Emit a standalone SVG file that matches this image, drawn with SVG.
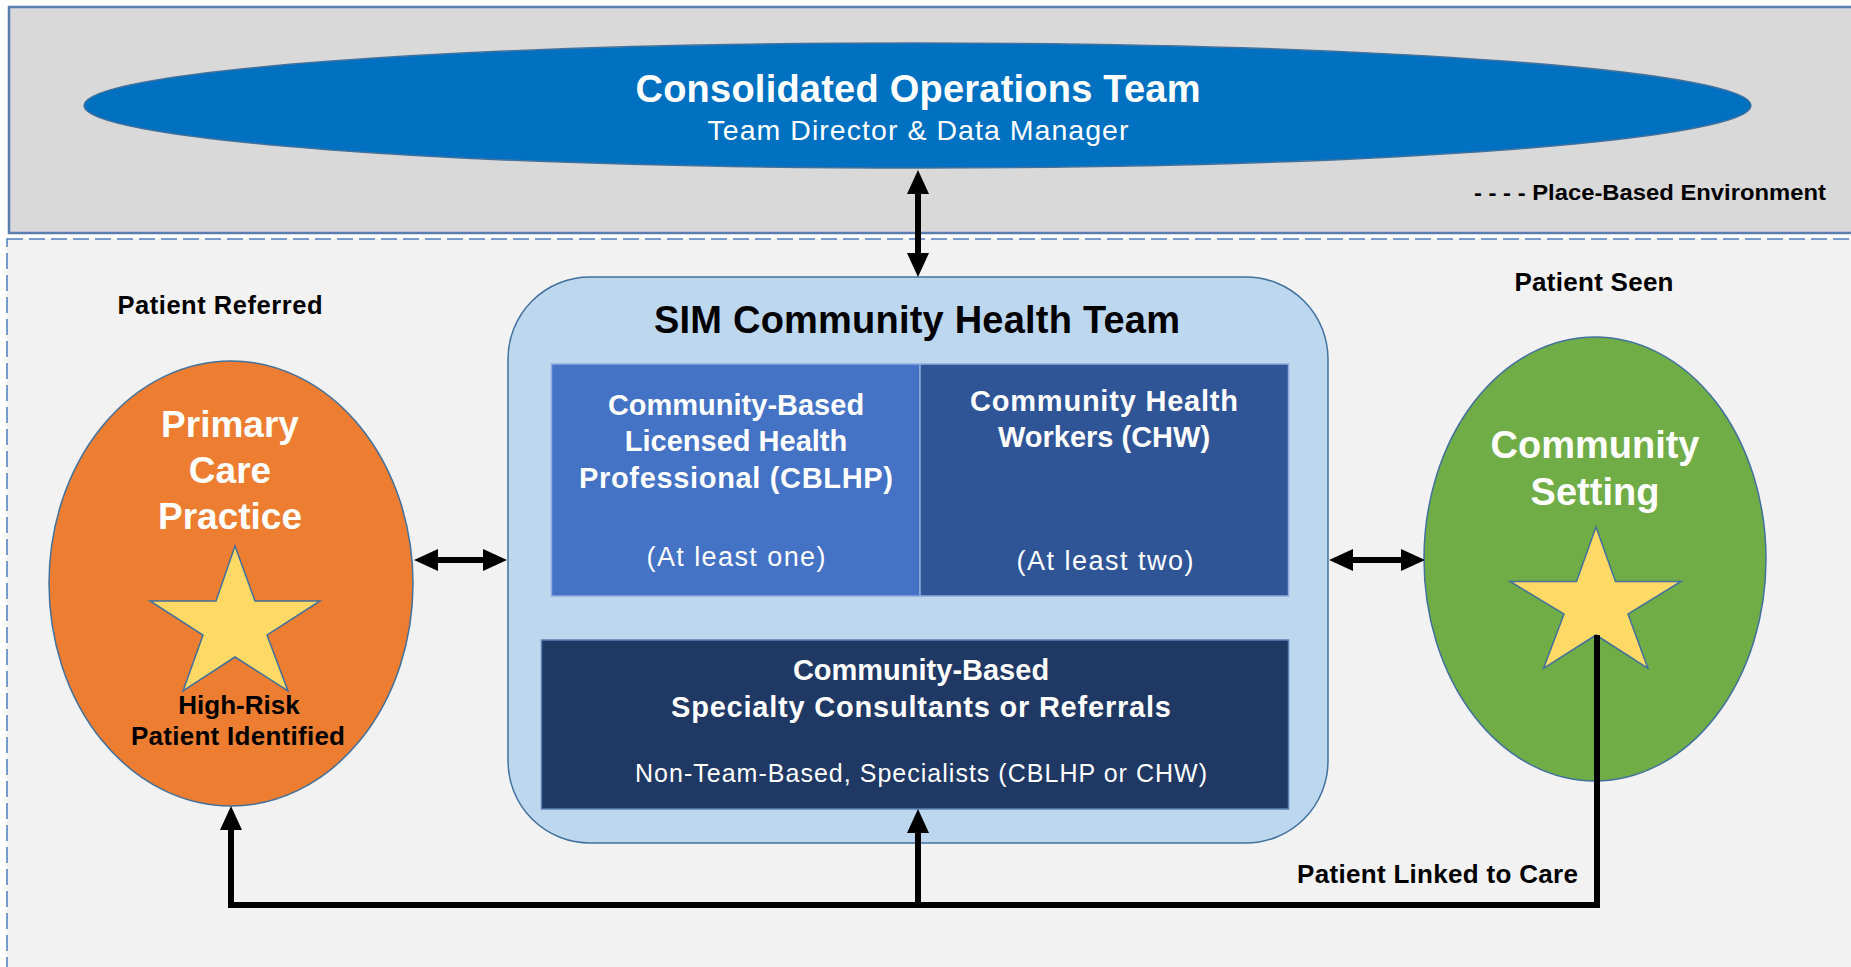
<svg xmlns="http://www.w3.org/2000/svg" width="1851" height="967" viewBox="0 0 1851 967">
<style>
.t{font-family:"Liberation Sans",Arial,sans-serif}
.b{font-weight:bold}
.w{fill:#ffffff}
.k{fill:#000000}
.c{text-anchor:middle}
.conn{fill:none;stroke:#000;stroke-width:6;stroke-linejoin:miter}
</style>
<defs>
<marker id="ah" viewBox="0 0 24 22" refX="0" refY="11" markerWidth="24" markerHeight="22" markerUnits="userSpaceOnUse" orient="auto-start-reverse">
<path d="M0,0 L24,11 L0,22 z" fill="#000"/>
</marker>
</defs>
<rect x="0" y="0" width="1851" height="967" fill="#ffffff"/>
<g id="operations-environment">
<rect x="9" y="7" width="1850" height="226" fill="#d9d9d9" stroke="#5a7fae" stroke-width="2.5"/>
<text class="t b k" x="1826" y="200" font-size="22" text-anchor="end" textLength="352" lengthAdjust="spacingAndGlyphs">- - - - Place-Based Environment</text>
</g>
<g id="place-based-environment">
<rect x="7" y="239" width="1860" height="740" fill="#f2f2f2" stroke="#4a7ebb" stroke-width="1.5" stroke-dasharray="16 6"/>
</g>
<g id="consolidated-operations-team">
<ellipse cx="917.5" cy="105.5" rx="833.5" ry="62.5" fill="#0070c0" stroke="#41719c" stroke-width="1.5"/>
<text class="t b w c" x="918" y="102" font-size="38" textLength="565" lengthAdjust="spacing">Consolidated Operations Team</text>
<text class="t w c" x="918" y="140" font-size="28.5" textLength="421" lengthAdjust="spacing">Team Director &amp; Data Manager</text>
</g>
<g id="sim-community-health-team">
<rect x="508" y="277" width="820" height="566" rx="82" ry="82" fill="#bdd7ee" stroke="#41719c" stroke-width="1.5"/>
<text class="t b k c" x="917" y="333" font-size="38" textLength="526" lengthAdjust="spacing">SIM Community Health Team</text>
</g>
<g id="cblhp">
<rect x="551.5" y="364" width="368.5" height="232" fill="#4472c4" stroke="#8faadc" stroke-width="1.5"/>
<text class="t b w c" x="736" y="415" font-size="29">Community-Based</text>
<text class="t b w c" x="736" y="451" font-size="29">Licensed Health</text>
<text class="t b w c" x="736" y="488" font-size="29" textLength="314" lengthAdjust="spacing">Professional (CBLHP)</text>
<text class="t w c" x="736" y="566" font-size="27" textLength="179" lengthAdjust="spacing">(At least one)</text>
</g>
<g id="chw">
<rect x="920" y="364" width="368.5" height="232" fill="#2f5597" stroke="#8faadc" stroke-width="1.5"/>
<text class="t b w c" x="1104" y="411" font-size="29" textLength="268" lengthAdjust="spacing">Community Health</text>
<text class="t b w c" x="1104" y="447" font-size="29">Workers (CHW)</text>
<text class="t w c" x="1105" y="570" font-size="27" textLength="177" lengthAdjust="spacing">(At least two)</text>
</g>
<g id="specialty-consultants">
<rect x="541.5" y="640" width="747" height="169" fill="#1f3864" stroke="#5b7fb5" stroke-width="1.5"/>
<text class="t b w c" x="921" y="680" font-size="29">Community-Based</text>
<text class="t b w c" x="921" y="717" font-size="29" textLength="500" lengthAdjust="spacing">Specialty Consultants or Referrals</text>
<text class="t w c" x="921" y="782" font-size="25" textLength="572" lengthAdjust="spacing">Non-Team-Based, Specialists (CBLHP or CHW)</text>
</g>
<g id="primary-care-practice">
<ellipse cx="231" cy="583.5" rx="182" ry="222.5" fill="#ed7d31" stroke="#41719c" stroke-width="1.5"/>
<text class="t b w c" x="230" y="437" font-size="37">Primary</text>
<text class="t b w c" x="230" y="483" font-size="37">Care</text>
<text class="t b w c" x="230" y="529" font-size="37">Practice</text>
<polygon points="235,546 255,601 320,601 267,635 288,691 235,657 183,691 203,635 150,601 216,601" fill="#ffd966" stroke="#41719c" stroke-width="1.5"/>
<text class="t b k c" x="239" y="714" font-size="26">High-Risk</text>
<text class="t b k c" x="238" y="745" font-size="26" textLength="214" lengthAdjust="spacing">Patient Identified</text>
</g>
<g id="community-setting">
<ellipse cx="1595" cy="559" rx="171" ry="222" fill="#70ad47" stroke="#41719c" stroke-width="1.5"/>
<text class="t b w c" x="1595" y="458" font-size="38">Community</text>
<text class="t b w c" x="1595" y="505" font-size="38">Setting</text>
<polygon points="1596,527 1615.5,581.5 1681,581.5 1628,614 1648,668.5 1596,635 1543.5,668.5 1564,614 1510,581.5 1576.5,581.5" fill="#ffd966" stroke="#41719c" stroke-width="1.5"/>
</g>
<g id="labels">
<text class="t b k c" x="220" y="314" font-size="25.5" textLength="205" lengthAdjust="spacing">Patient Referred</text>
<text class="t b k c" x="1594" y="291" font-size="26" textLength="159" lengthAdjust="spacing">Patient Seen</text>
<text class="t b k" x="1578" y="883" font-size="26" text-anchor="end" textLength="281" lengthAdjust="spacing">Patient Linked to Care</text>
</g>
<g id="connectors">
<line class="conn" x1="918" y1="194" x2="918" y2="253" marker-start="url(#ah)" marker-end="url(#ah)"/>
<line class="conn" x1="438" y1="560" x2="483" y2="560" marker-start="url(#ah)" marker-end="url(#ah)"/>
<line class="conn" x1="1353" y1="560" x2="1401" y2="560" marker-start="url(#ah)" marker-end="url(#ah)"/>
<polyline class="conn" points="1597,635 1597,905 231,905 231,830" marker-end="url(#ah)"/>
<line class="conn" x1="918" y1="905" x2="918" y2="833" marker-end="url(#ah)"/>
</g>
</svg>
